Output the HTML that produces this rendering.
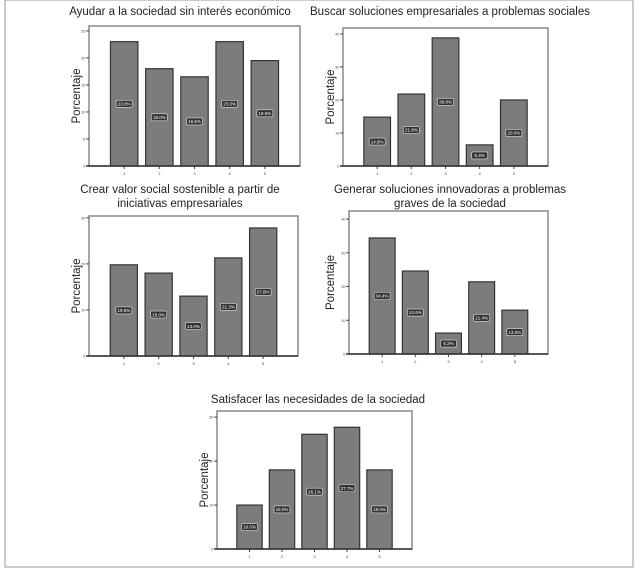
<!DOCTYPE html>
<html><head><meta charset="utf-8"><style>
body{margin:0;background:#fff;}
svg{display:block;font-family:"Liberation Sans",sans-serif;}
</style></head><body>
<svg id="fig" width="640" height="571" viewBox="0 0 640 571">
<rect x="5" y="0" width="628" height="567" fill="none" stroke="#999" stroke-width="1"/>
</svg>
<script>
const categories = ["1","2","3","4","5"];
const values1 = [23.0, 18.0, 16.5, 23.0, 19.5];
const values2 = [14.8, 21.8, 38.8, 6.4, 20.0];
const values3 = [19.8, 18.0, 13.0, 21.3, 27.8];
const values4 = [34.4, 24.6, 6.2, 21.4, 13.0];
const values5 = [10.0, 18.0, 26.1, 27.7, 18.0];
const ticks1 = [0,5,10,15,20,25];
const ticks2 = [0,10,20,30,40];
const ticks3 = [0,10,20,30];
const ticks4 = [0,10,20,30,40];
const ticks5 = [0,10,20,30];
const titles1 = ["Ayudar a la sociedad sin interés económico"];
const titles2 = ["Buscar soluciones empresariales a problemas sociales"];
const titles3 = ["Crear valor social sostenible a partir de","iniciativas empresariales"];
const titles4 = ["Generar soluciones innovadoras a problemas","graves de la sociedad"];
const titles5 = ["Satisfacer las necesidades de la sociedad"];

const NS="http://www.w3.org/2000/svg";
const svg=document.getElementById('fig');
function mk(tag,attrs,parent){const e=document.createElementNS(NS,tag);for(const k in attrs)e.setAttribute(k,attrs[k]);(parent||svg).appendChild(e);return e;}

function chart(id,vals,ticks,titles,box){
  const g=mk('g',{});
  
  
  const {x0,x1,y0,y1,max,tx,ty,ly}=box;
  const yS=v=>y1-(v/max)*(y1-y0);
  const step=(x1-x0)/6;
  const xS=i=>x0+step*(i+1);
  titles.forEach((t,k)=>{
    const tt=mk('text',{x:tx,y:ty+k*14,'text-anchor':'middle','font-size':'11.5','fill':'#222'},g);
    tt.textContent=t;
    
    
  });
  const fr=mk('rect',{x:x0,y:y0,width:x1-x0,height:y1-y0,fill:'#fff',stroke:'#888','stroke-width':1.5},g);
  
  
  const yl=mk('text',{x:0,y:0,transform:`translate(${ly},${(y0+y1)/2}) rotate(-90)`,'text-anchor':'middle','font-size':'11.5','fill':'#222'},g);
  yl.textContent='Porcentaje';
  
  
  ticks.forEach(t=>{
    const y=yS(t);
    const tk=mk('line',{x1:x0-3,x2:x0,y1:y,y2:y,stroke:'#444','stroke-width':1},g);
    
    
    const tl=mk('text',{x:x0-4,y:y+1.5,'text-anchor':'end','font-size':'3.5','fill':'#444'},g);
    tl.textContent=t;
    
    
  });
  vals.forEach((v,i)=>{
    const cx=xS(i),w=step*0.78;
    const b=mk('rect',{x:cx-w/2,y:yS(v),width:w,height:y1-yS(v),fill:'#7c7c7c',stroke:'#333','stroke-width':1.2},g);
    
    
    const my=(yS(v)+y1)/2;
    const lb=mk('rect',{x:cx-8,y:my-3.5,width:16,height:7,rx:1.5,fill:'#333',stroke:'#ddd','stroke-width':0.6},g);
    
    
    const lt=mk('text',{x:cx,y:my+1.7,'text-anchor':'middle','font-size':'4.5','fill':'#fff'},g);
    lt.textContent=v.toFixed(1)+'%';
    
    
    const xt=mk('line',{x1:cx,x2:cx,y1:y1,y2:y1+3,stroke:'#444','stroke-width':1},g);
    
    
    const xl=mk('text',{x:cx,y:y1+9,'text-anchor':'middle','font-size':'4','fill':'#444'},g);
    xl.textContent=categories[i];
    
    
  });
  const ax=mk('line',{x1:x0-3,x2:x1,y1:y1,y2:y1,stroke:'#333','stroke-width':1.5},g);
  
  
}
chart('chart-ayudar',values1,ticks1,titles1,{x0:89,x1:300,y0:26,y1:166,max:25.9,tx:180,ty:15,ly:80});
chart('chart-buscar',values2,ticks2,titles2,{x0:343,x1:548,y0:28,y1:166,max:41.8,tx:450,ty:15,ly:334});
chart('chart-crear',values3,ticks3,titles3,{x0:89,x1:298,y0:216,y1:356,max:30.4,tx:180,ty:193,ly:80});
chart('chart-generar',values4,ticks4,titles4,{x0:349,x1:548,y0:211,y1:354,max:42.4,tx:450,ty:193,ly:334});
chart('chart-satisfacer',values5,ticks5,titles5,{x0:217,x1:412,y0:411,y1:549,max:31.4,tx:318,ty:403,ly:208});
</script>
</body></html>
